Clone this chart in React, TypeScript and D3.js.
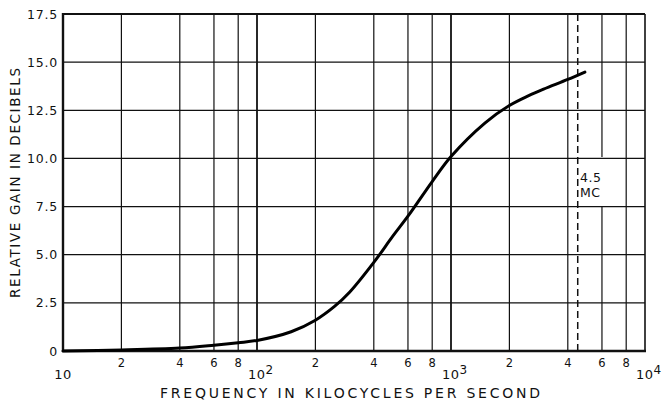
import React from "react";
import * as d3 from "d3";

// curve (kc/s -> dB)
const freqs = [10, 20, 40, 60, 80, 100, 150, 200, 250, 300, 400, 500, 600, 800, 1000, 1500, 2000, 2500, 3000, 4000, 4900];
const gains = [0, 0.05, 0.15, 0.3, 0.43, 0.55, 1.0, 1.6, 2.3, 3.05, 4.6, 5.95, 7.0, 8.8, 10.1, 11.85, 12.75, 13.25, 13.6, 14.1, 14.48];

const decades = [10, 100, 1000, 10000];
const decadeLabels = [["10", ""], ["10", "2"], ["10", "3"], ["10", "4"]];
const minorTicks = [20, 40, 60, 80, 200, 400, 600, 800, 2000, 4000, 6000, 8000];
const minorLabels = ["2", "4", "6", "8", "2", "4", "6", "8", "2", "4", "6", "8"];
const yTicks = [0, 2.5, 5, 7.5, 10, 12.5, 15, 17.5];
const yTickLabels = ["0", "2.5", "5.0", "7.5", "10.0", "12.5", "15.0", "17.5"];
const markerFreq = 4500;
const markerText = ["4.5", "MC"];

const W = 663, H = 406;
const margin = { top: 14, right: 18, bottom: 55, left: 63 };

export default function App() {
  const x = d3.scaleLog().domain([10, 10000]).range([margin.left, W - margin.right]);
  const y = d3.scaleLinear().domain([0, 17.5]).range([H - margin.bottom, margin.top]);
  const y0 = y(0), y1 = y(17.5);

  const line = d3.line<number>()
    .x((d, i) => x(freqs[i]))
    .y(d => y(d))
    .curve(d3.curveCatmullRom.alpha(0.5));

  const font = "'DejaVu Sans', Verdana, sans-serif";
  const mx = x(markerFreq);

  return (
    <svg width={W} height={H} style={{ position: "absolute", left: 0, top: 0, background: "#fff" }}
      fontFamily={font} fill="#111">
      <rect width={W} height={H} fill="#fff" />
      {/* horizontal grid */}
      {yTicks.map(t => (
        <line key={"h" + t} x1={x(10)} x2={x(10000)} y1={y(t)} y2={y(t)} stroke="#111" strokeWidth={1.3} />
      ))}
      {/* vertical grid */}
      {minorTicks.map(t => t === 6000 ? (
        <g key={"v" + t}>
          <line x1={x(t)} x2={x(t)} y1={y1} y2={157} stroke="#111" strokeWidth={1.2} />
          <line x1={x(t)} x2={x(t)} y1={206} y2={y0} stroke="#111" strokeWidth={1.2} />
        </g>
      ) : (
        <line key={"v" + t} x1={x(t)} x2={x(t)} y1={y1} y2={y0} stroke="#111" strokeWidth={1.2} />
      ))}
      {decades.slice(1, 3).map(t => (
        <line key={"d" + t} x1={x(t)} x2={x(t)} y1={y1} y2={y0} stroke="#111" strokeWidth={1.8} />
      ))}
      {/* frame */}
      <line x1={x(10)} x2={x(10000)} y1={y1} y2={y1} stroke="#111" strokeWidth={1.8} />
      <line x1={x(10000)} x2={x(10000)} y1={y1} y2={y0} stroke="#111" strokeWidth={1.6} />
      <line x1={x(10)} x2={x(10)} y1={y1 - 1} y2={y0 + 1} stroke="#111" strokeWidth={2.4} />
      <line x1={x(10) - 1} x2={x(10000) + 1} y1={y0} y2={y0} stroke="#111" strokeWidth={2.4} />

      {/* 4.5 MC marker */}
      <line x1={mx} x2={mx} y1={y1} y2={y0} stroke="#111" strokeWidth={1.5} strokeDasharray="7,4" />
      <text x={580} y={182} fontSize={12.5} letterSpacing={0.5}>{markerText[0]}</text>
      <text x={580} y={197} fontSize={12.5} letterSpacing={0.5}>{markerText[1]}</text>

      {/* curve */}
      <path d={line(gains) || ""} fill="none" stroke="#000" strokeWidth={3} strokeLinecap="round" />

      {/* y ticks */}
      {yTicks.map((t, i) => (
        <text key={"yl" + t} x={58} y={y(t) + 4.5} fontSize={12.5} textAnchor="end" letterSpacing={0.8}>{yTickLabels[i]}</text>
      ))}
      {/* x ticks */}
      {minorTicks.map((t, i) => (
        <text key={"xl" + t} x={x(t)} y={367} fontSize={11.5} textAnchor="middle">{minorLabels[i]}</text>
      ))}
      {decades.map((t, i) => i === 0 ? (
        <text key={"dl" + t} x={x(t)} y={379} fontSize={13} textAnchor="middle" letterSpacing={0.5}>{decadeLabels[i][0]}</text>
      ) : (
        <text key={"dl" + t} x={x(t) - 9} y={379} fontSize={13} letterSpacing={0.5}>
          {decadeLabels[i][0]}<tspan dy={-5} fontSize={12}>{decadeLabels[i][1]}</tspan>
        </text>
      ))}
      {/* axis titles */}
      <text x={350} y={398} fontSize={14} textAnchor="middle" textLength={380} lengthAdjust="spacing">
        FREQUENCY IN KILOCYCLES PER SECOND
      </text>
      <text transform="translate(20,183) rotate(-90)" fontSize={13.5} textAnchor="middle" textLength={230} lengthAdjust="spacing">
        RELATIVE GAIN IN DECIBELS
      </text>
    </svg>
  );
}
